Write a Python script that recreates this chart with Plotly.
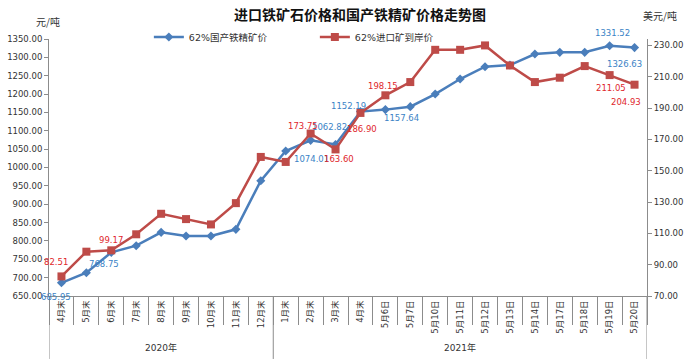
import plotly.graph_objects as go

# ---------------- data ----------------
categories = ["4月末", "5月末", "6月末", "7月末", "8月末", "9月末", "10月末", "11月末", "12月末",
              "1月末", "2月末", "3月末", "4月末 ", "5月6日", "5月7日", "5月10日", "5月11日", "5月12日",
              "5月13日", "5月14日", "5月17日", "5月18日", "5月19日", "5月20日"]
tick_labels = ["4月末", "5月末", "6月末", "7月末", "8月末", "9月末", "10月末", "11月末", "12月末",
               "1月末", "2月末", "3月末", "4月末", "5月6日", "5月7日", "5月10日", "5月11日", "5月12日",
               "5月13日", "5月14日", "5月17日", "5月18日", "5月19日", "5月20日"]
year_groups = ["2020年", "2021年"]
year_group_sizes = [9, 15]

domestic_62 = [685.95, 713.4, 768.75, 787.0, 823.4, 813.4, 813.4, 831.6, 964.0,
               1045.0, 1074.01, 1062.82, 1152.19, 1157.64, 1165.7, 1200.0, 1241.0, 1274.6,
               1279.0, 1309.0, 1313.7, 1313.7, 1331.52, 1326.63]
import_62 = [82.51, 98.3, 99.17, 109.4, 122.5, 119.1, 115.7, 129.3, 158.8,
             155.6, 173.75, 163.60, 186.90, 198.15, 206.6, 227.2, 227.2, 230.0,
             217.2, 206.6, 209.4, 216.8, 211.05, 204.93]

series_names = ["62%国产铁精矿价", "62%进口矿到岸价"]

# labelled points: (index, xshift px, yshift px)
domestic_labels = [(0, -5, -14), (2, -7, -12), (10, 1, -19), (11, -6, 17),
                   (12, -12, 6), (13, 16, -8), (22, 3, 13), (23, -10, -16)]
import_labels = [(0, -5, 14), (2, 0, 10), (10, -8, 8), (11, 3, -10),
                 (12, 2, -16), (13, -2, 9), (22, 1, -13), (23, -9, -17)]

BLUE = "#4a7ebb"
RED = "#be4b48"
BLUE_TXT = "#3b83c6"
RED_TXT = "#e0262c"
AXIS = "#8c8c8c"
FONT = "DejaVu Sans, Noto Sans CJK SC, sans-serif"
CJK = "Noto Sans CJK SC, sans-serif"

fig = go.Figure()
fig.add_trace(go.Scatter(
    x=categories, y=domestic_62, name=series_names[0], mode="lines+markers",
    line=dict(color=BLUE, width=2.5),
    marker=dict(symbol="diamond", size=7, color=BLUE),
    yaxis="y"))
fig.add_trace(go.Scatter(
    x=categories, y=import_62, name=series_names[1], mode="lines+markers",
    line=dict(color=RED, width=2.5),
    marker=dict(symbol="square", size=8, color=RED),
    yaxis="y2"))

annotations = []
for i, dx, dy in domestic_labels:
    annotations.append(dict(x=categories[i], y=domestic_62[i], xref="x", yref="y",
                            text=f"{domestic_62[i]:.2f}", showarrow=False,
                            xshift=dx, yshift=dy,
                            font=dict(family=FONT, size=8.5, color=BLUE_TXT)))
for i, dx, dy in import_labels:
    annotations.append(dict(x=categories[i], y=import_62[i], xref="x", yref="y2",
                            text=f"{import_62[i]:.2f}", showarrow=False,
                            xshift=dx, yshift=dy,
                            font=dict(family=FONT, size=8.5, color=RED_TXT)))

# year group labels
start = 0
for name, n in zip(year_groups, year_group_sizes):
    mid = start + (n - 1) / 2
    annotations.append(dict(x=mid, y=-0.2, xref="x", yref="paper", text=name,
                            showarrow=False, yanchor="middle",
                            font=dict(family=FONT, size=9, color="#333333")))
    start += n

annotations.append(dict(x=-0.0, y=1.07, xref="paper", yref="paper", text="元/吨",
                        showarrow=False, xanchor="right", yanchor="middle", xshift=13,
                        font=dict(family=CJK, size=10, color="#333333")))
annotations.append(dict(x=1.0, y=1.093, xref="paper", yref="paper", text="美元/吨",
                        showarrow=False, xanchor="center", yanchor="middle", xshift=13,
                        font=dict(family=CJK, size=10, color="#333333")))

# group dividers
shapes = []
b = -0.5
for n in [0] + year_group_sizes:
    b += n
    shapes.append(dict(type="line", xref="x", yref="paper", x0=b, x1=b, y0=0, y1=-0.245,
                       line=dict(color=AXIS, width=1)))

fig.update_layout(
    width=697, height=359,
    margin=dict(l=49, r=50, t=39, b=63, autoexpand=False),
    paper_bgcolor="white", plot_bgcolor="white",
    title=dict(text="<b>进口铁矿石价格和国产铁精矿价格走势图</b>", x=0.5165, xanchor="center",
               y=0.958, yanchor="middle",
               font=dict(family=CJK, size=14, color="#111111")),
    showlegend=True,
    legend=dict(orientation="h", x=0.167, y=1.008, xanchor="left", yanchor="middle",
                entrywidth=121, entrywidthmode="pixels",
                font=dict(family=FONT, size=9.5, color="#333333"),
                bgcolor="rgba(0,0,0,0)", tracegroupgap=0, itemwidth=30),
    xaxis=dict(type="category", categoryorder="array", categoryarray=categories,
               tickmode="array", tickvals=categories, ticktext=tick_labels,
               tickangle=-90, ticks="outside", tickson="boundaries", ticklen=28,
               tickcolor=AXIS, showline=True, linecolor=AXIS, linewidth=1,
               showgrid=False, zeroline=False, automargin=False,
               tickfont=dict(family=FONT, size=8.5, color="#333333"),
               range=[-0.5, 23.5]),
    yaxis=dict(range=[650, 1350], dtick=50, tick0=650, tickformat=".2f",
               ticks="outside", ticklen=4, tickcolor=AXIS, showline=True,
               linecolor=AXIS, showgrid=False, zeroline=False, automargin=False,
               tickfont=dict(family=FONT, size=8.5, color="#333333")),
    yaxis2=dict(range=[70, 234.1], dtick=20, tick0=70, tickformat=".2f",
                overlaying="y", side="right", automargin=False,
                ticks="outside", ticklen=4, tickcolor=AXIS, showline=True,
                linecolor=AXIS, showgrid=False, zeroline=False,
                tickfont=dict(family=FONT, size=8.5, color="#333333")),
    annotations=annotations,
    shapes=shapes,
)

# remove the page's default body margin so the figure fills the window exactly
fig.write_html("out.html",
               config={"displayModeBar": False},
               post_script="document.body.style.margin='0';document.body.style.overflow='hidden';")
